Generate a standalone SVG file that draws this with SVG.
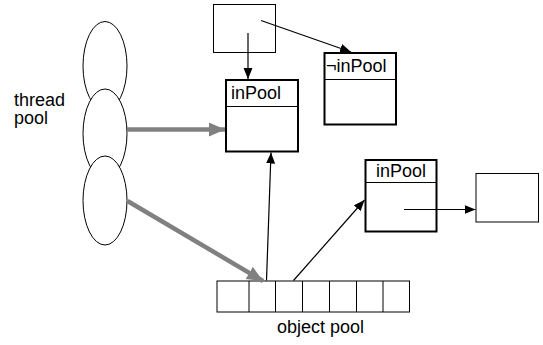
<svg xmlns="http://www.w3.org/2000/svg" width="543" height="345" viewBox="0 0 543 345">
<defs>
<marker id="ah" markerUnits="userSpaceOnUse" markerWidth="12" markerHeight="10" refX="11" refY="4.5" orient="auto">
<path d="M0,0 L11,4.5 L0,9 Z" fill="#000"/>
</marker>
<marker id="gh" markerUnits="userSpaceOnUse" markerWidth="17" markerHeight="15" refX="16" refY="7" orient="auto">
<path d="M0,0 L16,7 L0,14 Z" fill="#808080"/>
</marker>
</defs>
<style>
text{font-family:"Liberation Sans",Arial,sans-serif;font-size:18px;fill:#000}
.thin{fill:#fff;stroke:#000;stroke-width:1}
.obj{fill:#fff;stroke:#000;stroke-width:2}
.div{stroke:#000;stroke-width:1}
.c{stroke:#000;stroke-width:1.2;fill:none;marker-end:url(#ah)}
.g{stroke:#808080;stroke-width:4.5;fill:none;marker-end:url(#gh)}
</style>
<g id="threadpool">
<ellipse class="thin" cx="105" cy="66" rx="22" ry="44.5"/>
<ellipse class="thin" cx="105" cy="133.5" rx="22" ry="44.5"/>
<ellipse class="thin" cx="105" cy="200.5" rx="22" ry="44.5"/>
<text x="14" y="105.5">thread</text>
<text x="14" y="124">pool</text>
</g>
<g id="ref">
<rect class="thin" x="213.5" y="4.5" width="62" height="48"/>
</g>
<g id="obj1">
<rect class="obj" x="226" y="80" width="72" height="71.5"/>
<line class="div" x1="226" y1="106.5" x2="298" y2="106.5"/>
<text x="231" y="98.5">inPool</text>
</g>
<g id="obj2">
<rect class="obj" x="324.5" y="53" width="71.5" height="71.5"/>
<line class="div" x1="324.5" y1="79.5" x2="396" y2="79.5"/>
<text x="326" y="72">¬inPool</text>
</g>
<g id="obj3">
<rect class="obj" x="365.5" y="160" width="71" height="71.5"/>
<line class="div" x1="365.5" y1="182.5" x2="436.5" y2="182.5"/>
<text x="376" y="177">inPool</text>
</g>
<g id="target">
<rect class="thin" x="476" y="173.5" width="62.5" height="48.5"/>
</g>
<g id="objectpool">
<rect class="thin" x="217" y="281" width="192.5" height="31"/>
<line class="div" x1="249" y1="281" x2="249" y2="312"/>
<line class="div" x1="275.5" y1="281" x2="275.5" y2="312"/>
<line class="div" x1="302.5" y1="281" x2="302.5" y2="312"/>
<line class="div" x1="329.5" y1="281" x2="329.5" y2="312"/>
<line class="div" x1="356.5" y1="281" x2="356.5" y2="312"/>
<line class="div" x1="383" y1="281" x2="383" y2="312"/>
<text x="277" y="333">object pool</text>
</g>
<g id="connectors">
<line class="c" x1="248" y1="33" x2="248" y2="79"/>
<line class="c" x1="261" y1="20.5" x2="351" y2="52"/>
<line class="g" x1="127" y1="129.5" x2="225" y2="129.5"/>
<line class="g" x1="127.5" y1="201" x2="263" y2="281"/>
<line class="c" x1="266.5" y1="280.5" x2="271" y2="152.5"/>
<line class="c" x1="293.5" y1="280.5" x2="364.5" y2="200"/>
<line class="c" x1="404" y1="209.5" x2="475.5" y2="209.5"/>
</g>
</svg>
